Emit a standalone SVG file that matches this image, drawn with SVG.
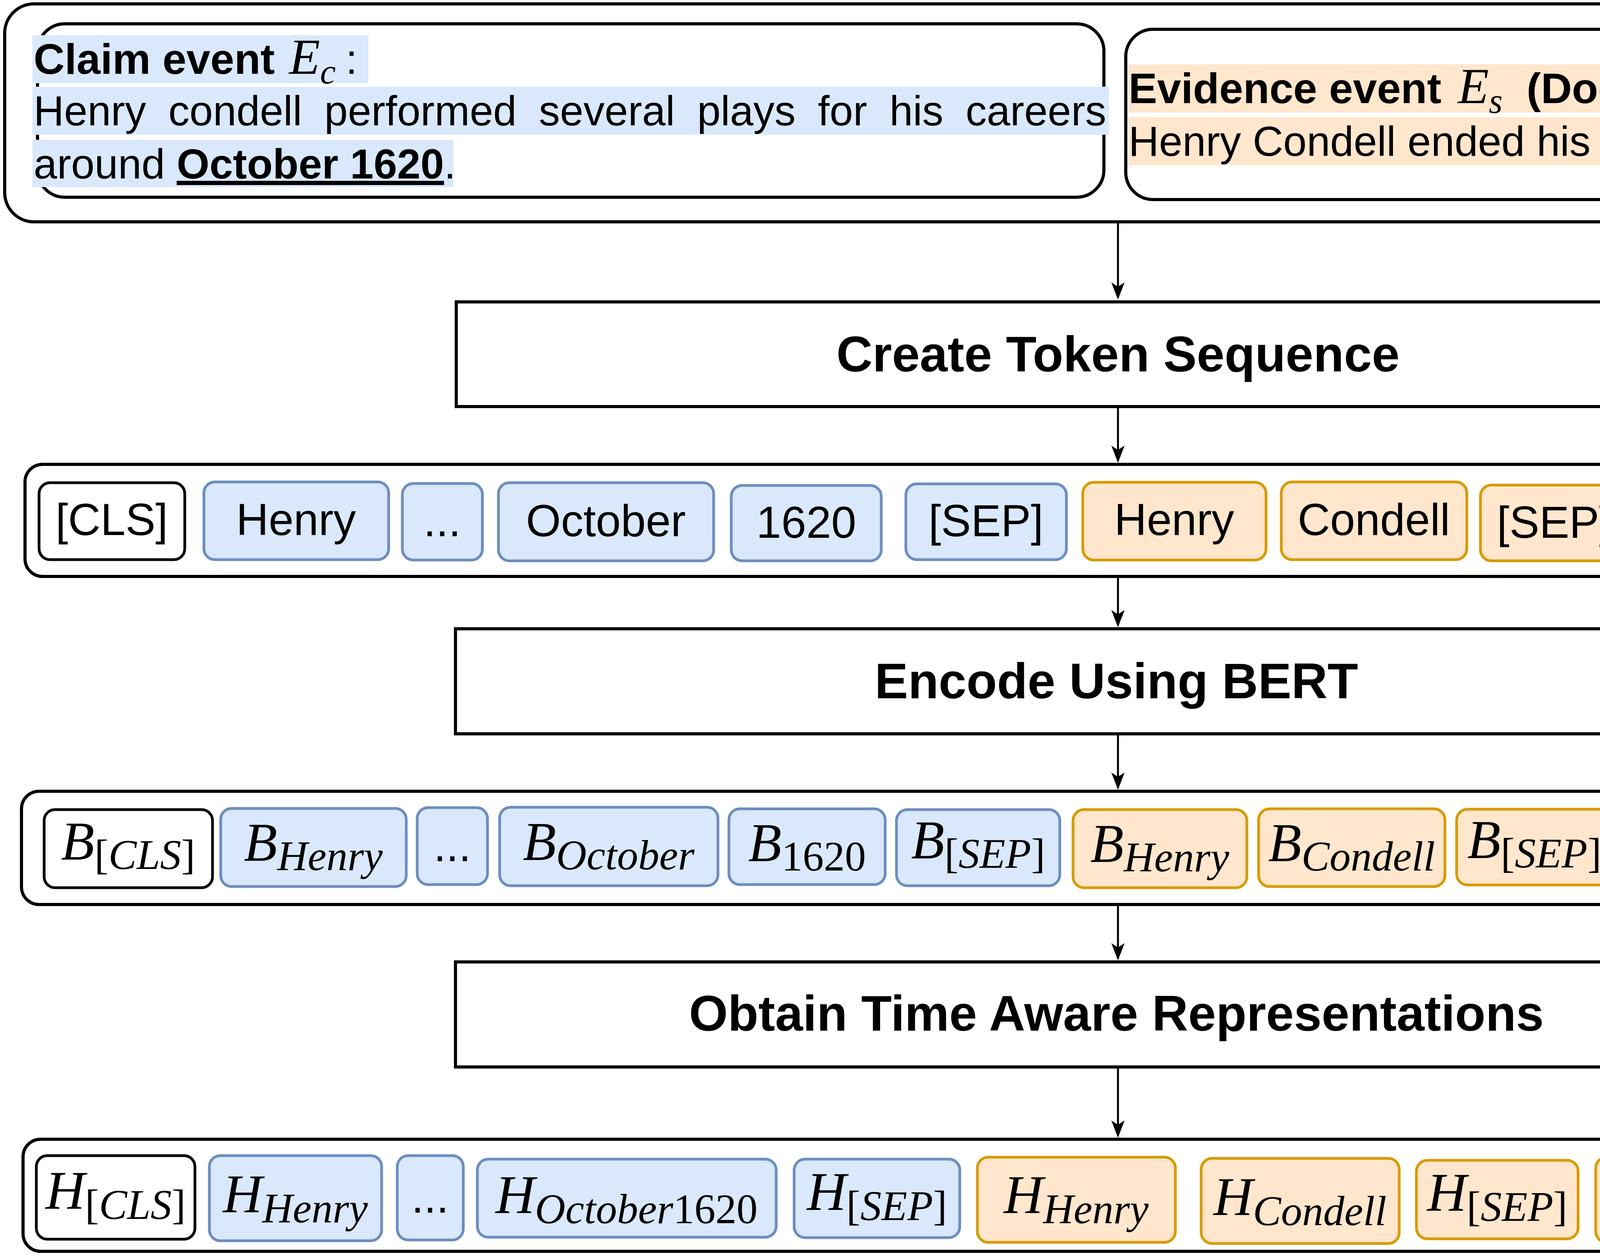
<svg xmlns="http://www.w3.org/2000/svg" width="5730" height="3216" viewBox="0 0 5730 3216">
<defs>
<style>
.ob{fill:#fff;stroke:#000;stroke-width:8}
.tw{fill:#fff;stroke:#000;stroke-width:7}
.tb{fill:#dae8fc;stroke:#6c8ebf;stroke-width:7}
.to{fill:#ffe6cc;stroke:#d79b00;stroke-width:7}
.hlb{fill:#dae8fc}
.hlo{fill:#ffe6cc}
.d{font-family:"Liberation Sans",Arial,sans-serif;font-size:108px;fill:#000}
.hb{font-weight:bold;font-size:110px}
.bb{font-weight:bold}
.me{font-family:"Liberation Serif","Times New Roman",serif;font-style:italic;font-size:130px;font-weight:normal}
.ms{font-family:"Liberation Serif","Times New Roman",serif;font-style:italic;font-size:90px;font-weight:normal}
.tt{font-family:"Liberation Sans",Arial,sans-serif;font-size:115px;text-anchor:middle;fill:#000}
.m{font-family:"Liberation Serif","Times New Roman",serif;font-style:italic;font-size:140px;text-anchor:middle;fill:#000}
.s{font-size:108px}
.u{font-style:normal}
.step{fill:#fff;stroke:#000;stroke-width:8}
.st{font-family:"Liberation Sans",Arial,sans-serif;font-weight:bold;font-size:128px;text-anchor:middle;fill:#000}
.con{fill:none;stroke:#000;stroke-width:5;marker-end:url(#arr)}
</style>
<marker id="arr" viewBox="-50 -22 52 44" refX="-6" refY="0" markerWidth="52" markerHeight="44" markerUnits="userSpaceOnUse" orient="auto">
<path d="M0,0 L-44,-17 L-33,0 L-44,17 Z" fill="#000"/>
</marker>
</defs>
<rect width="5730" height="3216" fill="#fff"/>

<g id="input-events">
<rect class="ob" x="12" y="10" width="5704" height="558" rx="75"/>
<g id="claim-event">
<rect class="ob" x="96" y="61" width="2730" height="444" rx="70"/>
<rect class="hlb" x="83" y="90" width="860" height="123"/>
<rect class="hlb" x="83" y="222" width="2756" height="123"/>
<rect class="hlb" x="83" y="358" width="1078" height="121"/>
<text class="d" y="189"><tspan x="86" class="hb">Claim event </tspan><tspan x="740" class="me">E</tspan><tspan class="ms" dy="25">c</tspan><tspan x="885" y="189">:</tspan></text>
<text class="d" x="86" y="321" word-spacing="27">Henry condell performed several plays for his careers</text>
<text class="d" x="86" y="457">around <tspan class="bb" text-decoration="underline">October 1620</tspan>.</text>
</g>
<g id="evidence-event">
<rect class="ob" x="2882" y="75" width="2774" height="436" rx="70"/>
<rect class="hlo" x="2890" y="165" width="2748" height="123"/>
<rect class="hlo" x="2890" y="300" width="2482" height="123"/>
<text class="d" y="264"><tspan x="2889" class="hb">Evidence event </tspan><tspan x="3732" class="me">E</tspan><tspan class="ms" dy="25">s</tspan><tspan x="3908" y="264" class="hb">(Document title: Henry Condell)</tspan><tspan>:</tspan></text>
<text class="d" x="2889" y="399">Henry Condell ended his stage career around <tspan class="bb" text-decoration="underline">1619</tspan>.</text>
</g>
</g>

<g id="step-create">
<rect class="step" x="1168" y="773" width="3388" height="268"/>
<text class="st" x="2862" y="951">Create Token Sequence</text>
</g>

<g id="token-sequence">
<rect class="ob" x="64" y="1189" width="5598" height="287" rx="45"/>
<g id="tok-cls"><rect class="tw" x="100" y="1236" width="373" height="197" rx="28"/><text class="tt" x="286" y="1370">[CLS]</text></g>
<g id="tok-henry-c"><rect class="tb" x="522" y="1234" width="473" height="199" rx="28"/><text class="tt" x="758" y="1370">Henry</text></g>
<g id="tok-dots-c"><rect class="tb" x="1030" y="1238" width="205" height="196" rx="28"/><text class="tt" x="1132" y="1373">...</text></g>
<g id="tok-october"><rect class="tb" x="1276" y="1236" width="551" height="200" rx="28"/><text class="tt" x="1551" y="1373">October</text></g>
<g id="tok-1620"><rect class="tb" x="1872" y="1243" width="384" height="193" rx="28"/><text class="tt" x="2064" y="1377">1620</text></g>
<g id="tok-sep1"><rect class="tb" x="2319" y="1239" width="411" height="194" rx="28"/><text class="tt" x="2524" y="1373">[SEP]</text></g>
<g id="tok-henry-e1"><rect class="to" x="2772" y="1235" width="469" height="199" rx="28"/><text class="tt" x="3006" y="1370">Henry</text></g>
<g id="tok-condell"><rect class="to" x="3280" y="1234" width="475" height="199" rx="28"/><text class="tt" x="3517" y="1370">Condell</text></g>
<g id="tok-sep2"><rect class="to" x="3790" y="1242" width="378" height="194" rx="28"/><text class="tt" x="3979" y="1377">[SEP]</text></g>
<g id="tok-henry-e2"><rect class="to" x="4207" y="1240" width="475" height="199" rx="28"/><text class="tt" x="4444" y="1377">Henry</text></g>
<g id="tok-dots-e"><rect class="to" x="4719" y="1237" width="141" height="202" rx="28"/><text class="tt" x="4789" y="1377">...</text></g>
<g id="tok-1619"><rect class="to" x="4893" y="1240" width="408" height="194" rx="28"/><text class="tt" x="5097" y="1373">1619</text></g>
<g id="tok-sep3"><rect class="to" x="5322" y="1241" width="321" height="194" rx="28"/><text class="tt" x="5482" y="1377">[SEP]</text></g>
</g>

<g id="step-encode">
<rect class="step" x="1166" y="1610" width="3385" height="269"/>
<text class="st" x="2858" y="1788">Encode Using BERT</text>
</g>

<g id="bert-outputs">
<rect class="ob" x="55" y="2026" width="5604" height="290" rx="45"/>
<g id="b-cls"><rect class="tw" x="113" y="2073" width="431" height="200" rx="28"/><text class="m" x="328" y="2201">B<tspan class="s" dy="24"><tspan class="u">[</tspan>CLS<tspan class="u">]</tspan></tspan></text></g>
<g id="b-henry-c"><rect class="tb" x="565" y="2070" width="475" height="200" rx="28"/><text class="m" x="802" y="2204">B<tspan class="s" dy="24">Henry</tspan></text></g>
<g id="b-dots-c"><rect class="tb" x="1068" y="2068" width="180" height="197" rx="28"/><text class="tt" x="1158" y="2205">...</text></g>
<g id="b-october"><rect class="tb" x="1279" y="2067" width="559" height="201" rx="28"/><text class="m" x="1558" y="2202">B<tspan class="s" dy="24">October</tspan></text></g>
<g id="b-1620"><rect class="tb" x="1866" y="2071" width="400" height="194" rx="28"/><text class="m" x="2066" y="2205">B<tspan class="s u" dy="24">1620</tspan></text></g>
<g id="b-sep1"><rect class="tb" x="2295" y="2073" width="418" height="195" rx="28"/><text class="m" x="2504" y="2198">B<tspan class="s" dy="24"><tspan class="u">[</tspan>SEP<tspan class="u">]</tspan></tspan></text></g>
<g id="b-henry-e1"><rect class="to" x="2747" y="2073" width="445" height="200" rx="28"/><text class="m" x="2969" y="2207">B<tspan class="s" dy="24">Henry</tspan></text></g>
<g id="b-condell"><rect class="to" x="3222" y="2071" width="477" height="199" rx="28"/><text class="m" x="3460" y="2205">B<tspan class="s" dy="24">Condell</tspan></text></g>
<g id="b-sep2"><rect class="to" x="3729" y="2072" width="398" height="194" rx="28"/><text class="m" x="3928" y="2197">B<tspan class="s" dy="24"><tspan class="u">[</tspan>SEP<tspan class="u">]</tspan></tspan></text></g>
<g id="b-henry-e2"><rect class="to" x="4156" y="2076" width="430" height="199" rx="28"/><text class="m" x="4371" y="2210">B<tspan class="s" dy="24">Henry</tspan></text></g>
<g id="b-dots-e"><rect class="to" x="4616" y="2070" width="147" height="203" rx="28"/><text class="tt" x="4689" y="2210">...</text></g>
<g id="b-1619"><rect class="to" x="4792" y="2076" width="409" height="194" rx="28"/><text class="m" x="4996" y="2207">B<tspan class="s u" dy="24">1619</tspan></text></g>
<g id="b-sep3"><rect class="to" x="5234" y="2079" width="391" height="194" rx="28"/><text class="m" x="5429" y="2204">B<tspan class="s" dy="24"><tspan class="u">[</tspan>SEP<tspan class="u">]</tspan></tspan></text></g>
</g>

<g id="step-obtain">
<rect class="step" x="1166" y="2463" width="3385" height="269"/>
<text class="st" x="2858" y="2639">Obtain Time Aware Representations</text>
</g>

<g id="time-aware-outputs">
<rect class="ob" x="59" y="2917" width="5604" height="287" rx="45"/>
<g id="h-cls"><rect class="tw" x="93" y="2959" width="406" height="214" rx="28"/><text class="m" x="296" y="3095">H<tspan class="s" dy="26"><tspan class="u">[</tspan>CLS<tspan class="u">]</tspan></tspan></text></g>
<g id="h-henry-c"><rect class="tb" x="536" y="2959" width="441" height="218" rx="28"/><text class="m" x="756" y="3104">H<tspan class="s" dy="26">Henry</tspan></text></g>
<g id="h-dots-c"><rect class="tb" x="1017" y="2959" width="169" height="216" rx="28"/><text class="tt" x="1101" y="3105">...</text></g>
<g id="h-october1620"><rect class="tb" x="1222" y="2968" width="765" height="200" rx="28"/><text class="m" x="1604" y="3106">H<tspan class="s" dy="26">October<tspan class="u">1620</tspan></tspan></text></g>
<g id="h-sep1"><rect class="tb" x="2033" y="2968" width="424" height="201" rx="28"/><text class="m" x="2245" y="3098">H<tspan class="s" dy="26"><tspan class="u">[</tspan>SEP<tspan class="u">]</tspan></tspan></text></g>
<g id="h-henry-e1"><rect class="to" x="2502" y="2963" width="507" height="218" rx="28"/><text class="m" x="2755" y="3106">H<tspan class="s" dy="26">Henry</tspan></text></g>
<g id="h-condell"><rect class="to" x="3075" y="2966" width="507" height="218" rx="28"/><text class="m" x="3328" y="3111">H<tspan class="s" dy="26">Condell</tspan></text></g>
<g id="h-sep2"><rect class="to" x="3626" y="2971" width="414" height="201" rx="28"/><text class="m" x="3833" y="3100">H<tspan class="s" dy="26"><tspan class="u">[</tspan>SEP<tspan class="u">]</tspan></tspan></text></g>
<g id="h-henry-e2"><rect class="to" x="4085" y="2963" width="450" height="218" rx="28"/><text class="m" x="4310" y="3106">H<tspan class="s" dy="26">Henry</tspan></text></g>
<g id="h-dots-e"><rect class="to" x="4576" y="2973" width="146" height="201" rx="28"/><text class="tt" x="4649" y="3111">...</text></g>
<g id="h-1619"><rect class="to" x="4754" y="2968" width="470" height="200" rx="28"/><text class="m" x="4989" y="3106">H<tspan class="s u" dy="26">1619</tspan></text></g>
<g id="h-sep3"><rect class="to" x="5254" y="2969" width="385" height="200" rx="28"/><text class="m" x="5446" y="3096">H<tspan class="s" dy="26"><tspan class="u">[</tspan>SEP<tspan class="u">]</tspan></tspan></text></g>
</g>

<g id="connectors">
<line class="con" x1="2862" y1="572" x2="2862" y2="761"/>
<line class="con" x1="2862" y1="1045" x2="2862" y2="1179"/>
<line class="con" x1="2862" y1="1480" x2="2862" y2="1600"/>
<line class="con" x1="2862" y1="1883" x2="2862" y2="2016"/>
<line class="con" x1="2862" y1="2320" x2="2862" y2="2453"/>
<line class="con" x1="2862" y1="2736" x2="2862" y2="2907"/>
</g>
</svg>
